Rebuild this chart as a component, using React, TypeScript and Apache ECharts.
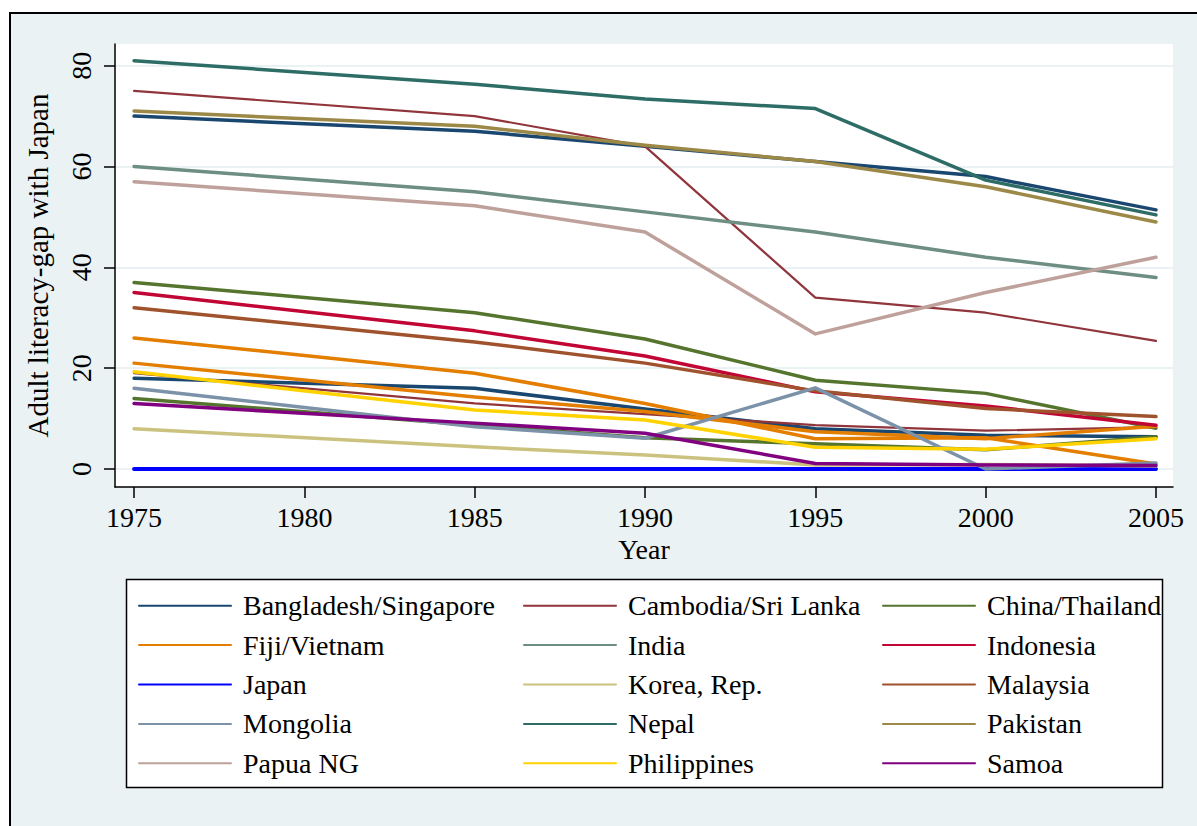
import React, { useEffect, useRef } from "react";
import * as echarts from "echarts";

// Observation years (kinks in the lines)
const years = [1975, 1985, 1990, 1995, 2000, 2005];
const xTicks = [1975, 1980, 1985, 1990, 1995, 2000, 2005];
const yTicks = [0, 20, 40, 60, 80];

// Adult literacy gap with Japan (percentage points)
const bangladesh = [70, 67, 64, 61, 58, 51.4];
const singapore = [18, 16, 11.9, 8.0, 6.7, 6.4];
const cambodia = [75, 70, 64, 34, 31, 25.4];
const sriLanka = [19, 13, 10.9, 8.7, 7.6, 8.3];
const chinaUpper = [37, 31, 25.8, 17.6, 15, 8.1];
const thailandLower = [14, 8.7, 6.2, 5.0, 3.8, 6.4];
const fiji = [26, 19, 13, 6.0, 6.2, 1.0];
const vietnam = [21, 14.3, 11.4, 7.4, 6.0, 8.5];
const india = [60, 55, 51, 47, 42, 38];
const indonesia = [35, 27.4, 22.4, 15.3, 12.5, 8.7];
const japan = [0, 0, 0, 0, 0, 0];
const korea = [8, 4.4, 2.8, 0.8, 0.9, 0.6];
const malaysia = [32, 25.2, 21, 15.5, 12, 10.4];
const mongolia = [16, 8.4, 6.1, 16.1, 0, 1.2];
const nepal = [81, 76.3, 73.4, 71.5, 57.3, 50.4];
const pakistan = [71, 68, 64.2, 61, 56, 49];
const papua = [57, 52.2, 47, 26.8, 35, 42];
const philippines = [19.3, 11.7, 9.7, 4.3, 3.9, 6.0];
const samoa = [13, 9.1, 7.1, 1.1, 0.8, 0.7];

const seriesNames = [
  "Bangladesh/Singapore",
  "Cambodia/Sri Lanka",
  "China/Thailand",
  "Fiji/Vietnam",
  "India",
  "Indonesia",
  "Japan",
  "Korea, Rep.",
  "Malaysia",
  "Mongolia",
  "Nepal",
  "Pakistan",
  "Papua NG",
  "Philippines",
  "Samoa",
];
const seriesLines = [
  [bangladesh, singapore],
  [cambodia, sriLanka],
  [chinaUpper, thailandLower],
  [fiji, vietnam],
  [india],
  [indonesia],
  [japan],
  [korea],
  [malaysia],
  [mongolia],
  [nepal],
  [pakistan],
  [papua],
  [philippines],
  [samoa],
];
const seriesColors = [
  "#1a476f",
  "#90353b",
  "#55752f",
  "#e37e00",
  "#6e8e84",
  "#c10534",
  "#0000ff",
  "#cac27e",
  "#a0522d",
  "#7b92a8",
  "#2d6d66",
  "#9c8847",
  "#bfa19c",
  "#ffd200",
  "#800080",
];
const seriesWidths = [3.5, 2.2, 3.5, 3.5, 3.5, 3.5, 4, 3.5, 3.5, 3.5, 3.5, 3.5, 3.5, 3.5, 3.5];

const legendCol1 = ["Bangladesh/Singapore", "Fiji/Vietnam", "Japan", "Mongolia", "Papua NG"];
const legendCol2 = ["Cambodia/Sri Lanka", "India", "Korea, Rep.", "Nepal", "Philippines"];
const legendCol3 = ["China/Thailand", "Indonesia", "Malaysia", "Pakistan", "Samoa"];

export default function App() {
  const ref = useRef<HTMLDivElement>(null);

  useEffect(() => {
    const chart = echarts.init(ref.current!, null, { renderer: "svg" });
    const font = '"Liberation Serif", "Times New Roman", serif';

    const series: any[] = [];
    seriesNames.forEach((name, k) => {
      seriesLines[k].forEach((vals) => {
        series.push({
          type: "line",
          name,
          data: years.map((y, i) => [y, vals[i]]),
          symbol: "none",
          showSymbol: false,
          silent: true,
          emphasis: { disabled: true },
          itemStyle: { color: seriesColors[k] },
          lineStyle: { color: seriesColors[k], width: seriesWidths[k], cap: "round", join: "round" },
        });
      });
    });

    const legendCommon = {
      orient: "vertical",
      top: 586,
      padding: 0,
      itemGap: 0,
      itemWidth: 92,
      itemHeight: 2,
      selectedMode: false,
      itemStyle: { opacity: 0 },
      textStyle: {
        fontFamily: font,
        fontSize: 28,
        color: "#000",
        lineHeight: 39.4,
        padding: [0, 0, 0, 7],
      },
    };

    chart.setOption({
      animation: false,
      backgroundColor: "#ffffff",
      graphic: [
        {
          type: "rect",
          z: -10,
          silent: true,
          shape: { x: 10, y: 13, width: 1200, height: 830 },
          style: { fill: "#eaf2f3", stroke: "#000", lineWidth: 2 },
        },
        {
          type: "rect",
          z: -5,
          silent: true,
          shape: { x: 126.5, y: 579.5, width: 1036, height: 208 },
          style: { fill: "#ffffff", stroke: "#000", lineWidth: 1.5 },
        },
      ],
      grid: {
        left: 115,
        right: 24,
        top: 44,
        bottom: 339,
        show: true,
        backgroundColor: "#ffffff",
        borderWidth: 0,
      },
      xAxis: {
        type: "value",
        min: 1974.44,
        max: 2005.5,
        name: "Year",
        nameLocation: "middle",
        nameGap: 44,
        nameTextStyle: { fontFamily: font, fontSize: 28, color: "#000" },
        axisLine: { onZero: false, lineStyle: { color: "#000", width: 1.5 } },
        axisTick: { customValues: xTicks, length: 11, lineStyle: { color: "#000", width: 1.5 } },
        axisLabel: {
          customValues: xTicks,
          formatter: (v: number) => String(v),
          fontFamily: font,
          fontSize: 28,
          color: "#000",
          margin: 16,
        },
        splitLine: { show: false },
      },
      yAxis: {
        type: "value",
        min: -3.57,
        max: 84.3,
        name: "Adult literacy-gap with Japan",
        nameLocation: "middle",
        nameGap: 63,
        nameRotate: 90,
        nameTextStyle: { fontFamily: font, fontSize: 29, color: "#000" },
        axisLine: { show: true, onZero: false, lineStyle: { color: "#000", width: 1.5 } },
        axisTick: { show: true, customValues: yTicks, length: 11, lineStyle: { color: "#000", width: 1.5 } },
        axisLabel: {
          customValues: yTicks,
          rotate: 90,
          formatter: (v: number) => String(v),
          fontFamily: font,
          fontSize: 28,
          color: "#000",
          margin: 20,
        },
        splitLine: { show: true, lineStyle: { color: "#eaf2f3", width: 2 } },
      },
      legend: [
        { ...legendCommon, left: 138, data: legendCol1 },
        { ...legendCommon, left: 523, data: legendCol2 },
        { ...legendCommon, left: 882, data: legendCol3 },
      ],
      series,
    });

    return () => chart.dispose();
  }, []);

  return (
    <div
      ref={ref}
      style={{ position: "absolute", left: 0, top: 0, width: 1197, height: 826 }}
    />
  );
}
